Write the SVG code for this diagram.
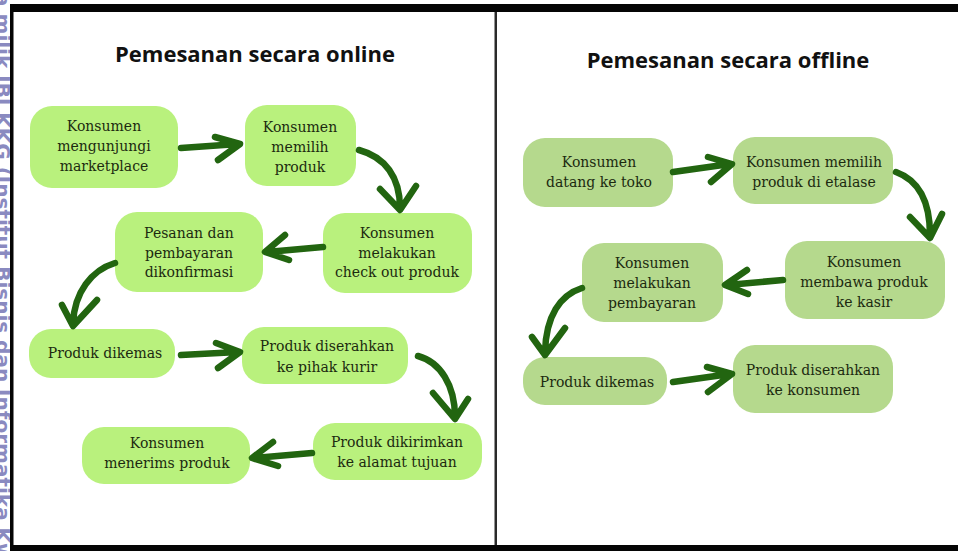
<svg xmlns="http://www.w3.org/2000/svg" width="958" height="551" viewBox="0 0 958 551">
<style>
.on{fill:#b9f17d}
.off{fill:#b5d98d}
.t{font-family:"DejaVu Serif","Liberation Serif",serif;font-size:14px;fill:#1c2a10;text-anchor:middle}
.title{font-family:"Open Sans","DejaVu Sans",sans-serif;font-weight:bold;font-size:22px;fill:#111;text-anchor:middle}
.arr{fill:none;stroke:#226510;stroke-width:6.5;stroke-linecap:round;stroke-linejoin:round}
.wm{font-family:"DejaVu Sans",sans-serif;font-weight:bold;font-size:20px;fill:#8a8ac0}
</style>
<defs>
<clipPath id="wmclip"><rect x="0" y="0" width="10" height="551"/></clipPath>
</defs>
<rect x="0" y="0" width="958" height="551" fill="#fff"/>
<g clip-path="url(#wmclip)">
<text class="wm" transform="translate(-4,-100) rotate(90)">Hak cipta milik IBI KKG (Institut Bisnis dan Informatika Kwik Kian Gie)</text>
</g>
<g id="frame">
<rect x="10" y="4" width="948" height="8" fill="#050505"/>
<rect x="10" y="4" width="3.5" height="547" fill="#050505"/>
<rect x="10" y="545" width="948" height="6" fill="#050505"/>
<rect x="494.5" y="12" width="2.5" height="533" fill="#2a2a2a"/>
</g>
<text class="title" x="255" y="62">Pemesanan secara online</text>
<text class="title" x="728" y="68">Pemesanan secara offline</text>

<g id="on1"><rect class="on" x="30" y="106" width="148" height="82" rx="22"/>
<text class="t" x="104" y="131">Konsumen</text><text class="t" x="104" y="151">mengunjungi</text><text class="t" x="104" y="171">marketplace</text></g>
<g id="on2"><rect class="on" x="245" y="105" width="111" height="81" rx="22"/>
<text class="t" x="300" y="132">Konsumen</text><text class="t" x="300" y="152">memilih</text><text class="t" x="300" y="172">produk</text></g>
<g id="on3"><rect class="on" x="323" y="213" width="149" height="80" rx="22"/>
<text class="t" x="397" y="238">Konsumen</text><text class="t" x="397" y="258">melakukan</text><text class="t" x="397" y="277">check out produk</text></g>
<g id="on4"><rect class="on" x="115" y="212" width="148" height="80" rx="22"/>
<text class="t" x="189" y="238">Pesanan dan</text><text class="t" x="189" y="258">pembayaran</text><text class="t" x="189" y="277">dikonfirmasi</text></g>
<g id="on5"><rect class="on" x="29" y="329" width="146" height="49" rx="22"/>
<text class="t" x="105" y="358">Produk dikemas</text></g>
<g id="on6"><rect class="on" x="242" y="327" width="166" height="57" rx="22"/>
<text class="t" x="327" y="351">Produk diserahkan</text><text class="t" x="327" y="372">ke pihak kurir</text></g>
<g id="on7"><rect class="on" x="313" y="423" width="169" height="57" rx="22"/>
<text class="t" x="397" y="447">Produk dikirimkan</text><text class="t" x="397" y="467">ke alamat tujuan</text></g>
<g id="on8"><rect class="on" x="82" y="427" width="168" height="57" rx="22"/>
<text class="t" x="167" y="448">Konsumen</text><text class="t" x="167" y="468">menerims produk</text></g>

<g id="off1"><rect class="off" x="523" y="138" width="150" height="69" rx="22"/>
<text class="t" x="599" y="167">Konsumen</text><text class="t" x="599" y="187">datang ke toko</text></g>
<g id="off2"><rect class="off" x="733" y="137" width="160" height="67" rx="22"/>
<text class="t" x="814" y="167">Konsumen memilih</text><text class="t" x="814" y="187">produk di etalase</text></g>
<g id="off3"><rect class="off" x="785" y="241" width="160" height="78" rx="22"/>
<text class="t" x="864" y="267">Konsumen</text><text class="t" x="864" y="287">membawa produk</text><text class="t" x="864" y="307">ke kasir</text></g>
<g id="off4"><rect class="off" x="582" y="243" width="141" height="79" rx="22"/>
<text class="t" x="652" y="268">Konsumen</text><text class="t" x="652" y="288">melakukan</text><text class="t" x="652" y="308">pembayaran</text></g>
<g id="off5"><rect class="off" x="523" y="357" width="144" height="48" rx="22"/>
<text class="t" x="597" y="387">Produk dikemas</text></g>
<g id="off6"><rect class="off" x="733" y="345" width="160" height="68" rx="22"/>
<text class="t" x="813" y="375">Produk diserahkan</text><text class="t" x="813" y="395">ke konsumen</text></g>

<g id="connectors" class="arr">
<path d="M181,148 L238,144 M215,137 L240,144 L218,160"/>
<path d="M359,150 C385,157 400,177 400,208 M380,189 L400,210 L416,186"/>
<path d="M323,247 L267,252 M285,235 L265,252 L289,260"/>
<path d="M115,263 C92,270 74,292 73,324 M62,305 L73,326 L97,300"/>
<path d="M181,355 L238,352 M216,343 L240,352 L218,368"/>
<path d="M418,356 C440,362 455,385 455,417 M433,393 L455,419 L468,399"/>
<path d="M312,453 L254,458 M273,442 L252,458 L278,466"/>
<path d="M673,172 L730,164 M708,157 L732,164 L711,182"/>
<path d="M896,172 C918,180 930,200 930,235 M910,217 L930,238 L942,214"/>
<path d="M783,280 L727,285 M747,270 L725,285 L748,294"/>
<path d="M582,288 C560,295 546,316 545,352 M532,337 L545,355 L565,328"/>
<path d="M673,382 L730,374 M707,367 L732,374 L708,392"/>
</g>
</svg>
